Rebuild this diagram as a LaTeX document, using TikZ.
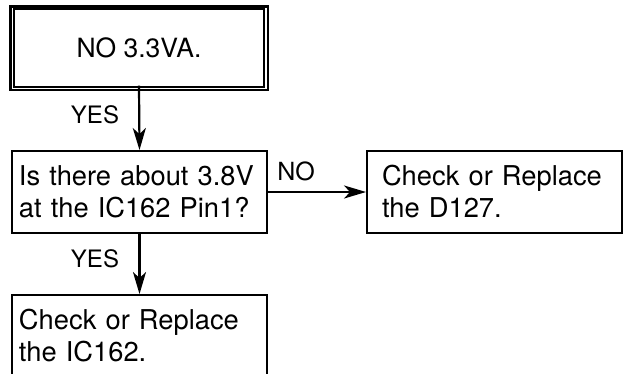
\documentclass[tikz,border=0pt]{standalone}
\usepackage{fontspec}
\setmainfont{TeX Gyre Heros}
\usetikzlibrary{arrows.meta}
\begin{document}
\begin{tikzpicture}[x=1pt,y=-1pt,
  box/.style={draw, line width=1.9pt, rectangle, minimum height=82pt, align=left,
    font=\fontsize{27.3}{32}\selectfont, inner ysep=0pt},
  lbl/.style={font=\fontsize{24}{28}\selectfont, inner sep=0pt},
  arr/.style={line width=2.2pt, -{Stealth[length=22pt,width=13pt,inset=6pt]}}]
\useasboundingbox (0,0) rectangle (624,373);
\clip (0,0) rectangle (624,373);
% top double box
\node[draw, line width=1.2pt, rectangle, minimum width=250pt, minimum height=78pt,
  font=\fontsize{26.5}{32}\selectfont, inner sep=0pt] (b1) at (139,48) {NO 3.3VA.};
\draw[line width=2.2pt] ([shift={(-3,-2)}]b1.north west) rectangle ([shift={(3,2)}]b1.south east);
% question box
\node[box, text width=241pt, inner xsep=7pt] (b2) at (139.5,192) {Is there about 3.8V\\at the IC162 Pin1?};
% right box
\node[box, text width=225pt, inner xsep=15pt] (b3) at (494.5,192) {Check or Replace\\the D127.};
% bottom box
\node[box, text width=241pt, inner xsep=7pt] (b4) at (139.5,336) {Check or Replace\\the IC162.};
% connectors
\draw[arr] ([yshift=2pt]b1.south) -- (b2.north);
\draw[arr] (b2.east) -- (b3.west);
\draw[arr] (b2.south) -- (b4.north);
% labels
\node[lbl] (y1) at (95,115) {YES};
\node[lbl, font=\fontsize{25}{30}\selectfont] (n1) at (296,171) {NO};
\node[lbl] (y2) at (95,259) {YES};
\end{tikzpicture}
\end{document}
